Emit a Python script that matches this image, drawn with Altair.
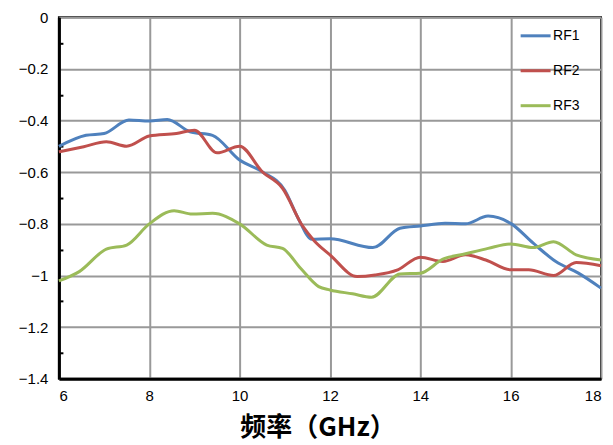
import altair as alt
import pandas as pd

series = ["RF1", "RF2", "RF3"]
colors = ["#4F81BD", "#C0504D", "#9BBB59"]

rf1_x = [6, 6.6, 7.0, 7.55, 8.0, 8.4, 8.9, 9.4, 10.0, 10.5, 11.0, 11.3, 11.6, 12.0, 12.95, 13.55, 14.0, 14.55, 15.0, 15.5, 16.0, 16.5, 17.0, 17.5, 18.0]
rf1_y = [-0.50, -0.457, -0.45, -0.398, -0.402, -0.396, -0.443, -0.457, -0.553, -0.598, -0.67, -0.78, -0.86, -0.858, -0.892, -0.817, -0.808, -0.798, -0.80, -0.770, -0.798, -0.875, -0.946, -0.991, -1.049]

rf2_x = [6, 6.55, 7.05, 7.5, 8.0, 8.6, 9.0, 9.5, 10.0, 10.5, 10.95, 11.4, 11.65, 12.0, 12.6, 13.0, 13.5, 14.0, 14.5, 15.0, 15.45, 16.0, 16.4, 16.95, 17.45, 18.0]
rf2_y = [-0.521, -0.501, -0.482, -0.499, -0.46, -0.45, -0.437, -0.525, -0.499, -0.598, -0.662, -0.81, -0.865, -0.92, -1.004, -0.998, -0.978, -0.929, -0.946, -0.92, -0.94, -0.978, -0.978, -1.0, -0.95, -0.962]

rf3_x = [6, 6.45, 7.05, 7.5, 8.0, 8.55, 8.95, 9.4, 10.0, 10.6, 10.95, 11.35, 11.75, 12.0, 12.5, 12.92, 13.55, 14.0, 14.5, 15.0, 15.5, 16.0, 16.5, 16.95, 17.45, 18.0]
rf3_y = [-1.021, -0.985, -0.898, -0.882, -0.80, -0.749, -0.762, -0.759, -0.80, -0.882, -0.895, -0.972, -1.043, -1.056, -1.071, -1.084, -0.994, -0.991, -0.937, -0.916, -0.895, -0.878, -0.892, -0.869, -0.92, -0.94]

x_ticks = [6, 8, 10, 12, 14, 16, 18]
y_ticks = [0, -0.2, -0.4, -0.6, -0.8, -1.0, -1.2, -1.4]
y_minor = [-0.1, -0.3, -0.5, -0.7, -0.9, -1.1, -1.3]

rows = []
for name, xs, ys in zip(series, [rf1_x, rf2_x, rf3_x], [rf1_y, rf2_y, rf3_y]):
    for a, b in zip(xs, ys):
        rows.append({"freq": a, "val": b, "series": name})
df = pd.DataFrame(rows)

W, H = 543, 362

xenc = alt.X("freq:Q", scale=alt.Scale(domain=[6, 18], nice=False),
             axis=alt.Axis(values=x_ticks, grid=True, ticks=False, domainWidth=3, domainColor="black",
                           labelFontSize=15, labelFont="Liberation Sans", labelColor="black", labelPadding=10,
                           title="频率（GHz）", titleFontSize=26, titleFontWeight="bold",
                           titleFont="Noto Sans CJK SC", titleColor="black",
                           titleBaseline="middle", titleY=49, titleX=259,
                           gridColor="#999999", gridWidth=2, gridOpacity=1))

lines = alt.Chart(df).mark_line(interpolate="monotone", strokeWidth=3).encode(
    x=xenc,
    y=alt.Y("val:Q", scale=alt.Scale(domain=[-1.4, 0], nice=False),
            axis=alt.Axis(values=y_ticks, grid=True, ticks=False, domainWidth=3, domainColor="black",
                          labelFontSize=15, labelFont="Liberation Sans", labelColor="black", labelPadding=11,
                          format="~g", title=None, gridColor="#999999", gridWidth=2, gridOpacity=1)),
    color=alt.Color("series:N", scale=alt.Scale(domain=series, range=colors),
                    legend=alt.Legend(orient="none", legendX=461, legendY=2, title=None,
                                      symbolType="stroke", symbolSize=900, symbolStrokeWidth=3,
                                      labelFontSize=14, labelFont="Liberation Sans", labelColor="black",
                                      rowPadding=11, labelOffset=1)),
)

minor = alt.Chart(df).mark_line(opacity=0).encode(
    x=xenc,
    y=alt.Y("val:Q", scale=alt.Scale(domain=[-1.4, 0], nice=False),
            axis=alt.Axis(orient="right", offset=-W, values=y_minor, labels=False, domain=False,
                          grid=False, ticks=True, tickSize=4, tickWidth=2, tickColor="black", title=None)),
    detail="series:N",
)

chart = alt.layer(lines, minor).resolve_axis(y="independent").properties(
    width=W, height=H,
    padding={"left": 51, "top": 9, "right": 4, "bottom": 64},
    autosize=alt.AutoSizeParams(type="none"),
    view=alt.ViewBackground(stroke="black", strokeWidth=2),
).configure_view(stroke="black", strokeWidth=2)

chart.save("out.html", embed_options={"renderer": "svg", "actions": False})
